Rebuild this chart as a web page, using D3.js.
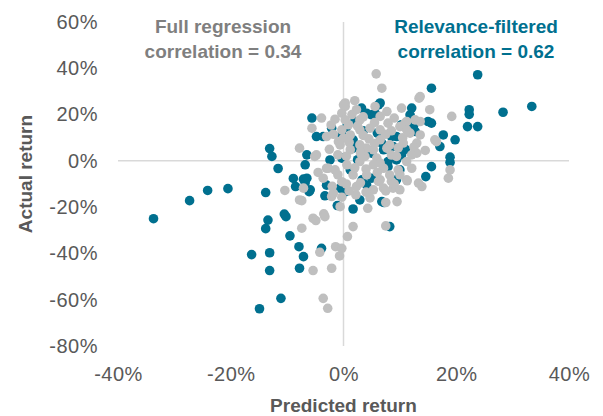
<!DOCTYPE html>
<html>
<head>
<meta charset="utf-8">
<script src="https://cdn.jsdelivr.net/npm/d3@7"></script>
<style>
  body { margin: 0; background: #fff; }
  text { font-family: "Liberation Sans", Arial, sans-serif; }
</style>
</head>
<body>
<div id="chart"></div>
<script>
// predicted vs actual return, in percent
const filteredPoints = [
  [-33.7, -25.0], [-27.3, -17.2], [-24.1, -12.8], [-20.5, -12.0], [-13.8, -13.7],
  [-13.1, 5.3], [-12.7, 1.9], [-11.6, -3.3], [-13.4, -25.6], [-13.8, -29.3],
  [-16.3, -40.5], [-13.1, -39.7], [-13.1, -47.4], [-14.9, -63.9], [-11.1, -59.4],
  [-10.5, -23.0], [-10.2, -24.1], [-9.5, -32.4], [-7.9, -37.1], [-7.8, -46.4],
  [-8.9, -7.6], [-8.5, -11.1], [-3.9, -37.8], [-7.1, -41.4], [-1.1, -19.3],
  [1.7, -20.8], [7.2, -18.0], [8.2, -28.4], [-6.1, -13.3], [-3.3, -15.1],
  [-3.6, 10.5], [-2.1, 14.1], [-5.6, 18.5], [-2.4, 0.4], [-6.8, -1.7],
  [-7.1, -7.9], [-6.8, -9.5], [-0.6, -11.8], [23.8, 37.2], [15.6, 31.4],
  [33.4, 23.5], [28.3, 21.0], [22.3, 22.1], [22.3, 20.1], [22.0, 14.8],
  [23.8, 14.8], [12.1, 22.8], [15.6, 16.3], [17.7, 11.2], [17.1, 6.2],
  [19.8, 9.1], [18.9, 1.6], [18.9, -0.7], [15.6, -2.5], [14.6, -6.8],
  [6.5, 25.0], [3.2, 22.8], [-4.8, 10.5], [-6.5, 2.6], [-6.5, -7.5],
  [-5.9, -12.5], [2.9, -16.9], [6.8, -17.6], [7.9, -2.5], [9.4, 0.4],
  [9.4, 10.5], [8.8, 6.2], [12.4, 14.8], [15.0, 17.0], [4.1, 20.6],
  [5.0, 19.9], [1.7, 9.1], [1.7, 5.5], [6.8, 7.7], [8.5, 10.5],
  [5.0, 3.3], [7.1, 4.8], [10.3, 2.6], [4.1, -10.4], [-0.3, 11.2],
  [-0.3, 1.2], [10.0, -3.9], [9.4, -8.2], [7.9, -0.3], [6.2, 24.2],
  [5.6, 20.6], [11.8, 19.9], [2.0, 17.0], [10.3, 15.6], [12.7, 12.7],
  [1.2, -3.9], [3.3, -8.2], [0.3, -13.4], [0.5, 14.5], [3.5, 13.0],
  [2.5, 0.5], [5.0, -7.5], [-3.0, -10.5], [11.0, 5.0], [6.0, 12.0]
]

const fullPoints = [
  [-10.4, -12.8], [-7.8, 5.5], [-7.8, -16.9], [-7.4, -29.1], [-5.4, -24.8],
  [-4.9, -25.8], [-3.5, -22.9], [-3.3, -24.1], [-0.6, -19.8], [1.7, -28.4],
  [4.3, -20.5], [7.5, -28.1], [7.5, -18.0], [9.5, -17.6], [0.7, -32.7],
  [-1.4, -37.1], [-0.3, -37.8], [-0.7, -41.1], [-4.2, -39.5], [-5.4, -47.4],
  [-2.1, -46.4], [-3.6, -59.4], [-2.8, -63.7], [-7.4, -17.2], [-2.1, -15.4],
  [-0.3, -15.7], [-5.6, 14.1], [-3.0, 10.5], [-0.3, 13.4], [-4.8, 2.6],
  [-3.0, -3.2], [-3.6, -7.5], [-7.1, -11.8], [-1.8, -14.0], [-0.3, -9.0],
  [-0.9, 8.3], [-3.9, 18.5], [0.3, 23.5], [-0.3, 20.6], [5.8, 37.6],
  [6.8, 31.4], [13.4, 27.1], [19.2, 19.2], [15.3, 22.1], [10.3, 22.8],
  [16.5, 8.3], [18.9, -3.9], [18.6, -7.5], [13.9, -11.1], [11.3, -8.6],
  [5.6, 23.5], [0.3, 25.0], [2.3, 22.1], [-5.1, 1.9], [-2.7, -3.2],
  [8.5, -8.9], [6.2, -8.9], [11.8, 12.0], [12.7, 17.7], [13.6, 11.2],
  [10.9, 16.3], [13.0, 7.7], [13.0, 3.3], [6.5, 9.1], [6.5, 19.2],
  [4.1, 5.5], [10.0, 14.8], [0.0, 24.2], [7.7, 21.3], [13.6, 27.8],
  [11.2, 17.0], [0.9, 15.6], [7.9, 16.3], [1.2, 11.2], [2.9, 13.4],
  [4.7, 14.1], [6.5, 13.4], [11.2, 13.4], [10.6, 7.7], [12.1, 2.6],
  [11.2, -0.3], [2.9, 6.9], [1.2, 4.8], [0.6, -1.7], [2.9, -0.3],
  [5.3, -1.7], [7.1, -3.2], [1.7, -6.1], [4.1, -6.1], [6.5, -8.2],
  [8.2, -6.1], [8.8, -11.8], [7.1, -11.8], [5.3, -12.5], [2.3, -11.1],
  [11.2, -8.2], [13.3, -9.6], [12.1, -3.2], [0.0, 9.8], [7.7, 5.5],
  [9.4, 1.9], [5.3, 4.8], [3.8, 1.9], [5.9, 1.2], [16.2, 9.1],
  [13.6, 17.0], [0.3, 17.7], [2.9, 17.7], [8.2, 6.9], [-0.6, 6.9],
  [-1.5, -3.9], [-1.0, 2.6], [2.2, -14.7], [4.7, -16.0], [7.5, -13.0],
  [9.7, -3.9], [9.7, 5.6], [10.0, -12.5], [-1.5, 18.0], [1.5, 20.0],
  [3.5, 19.0], [-2.5, 5.0], [-1.0, -6.0], [0.5, -10.0], [2.0, -3.0],
  [3.0, 3.5], [4.5, 9.5], [5.5, 16.5], [8.5, 13.0], [9.0, 18.5],
  [10.5, 10.0], [3.5, 11.0], [1.0, 8.0], [-1.8, 11.5], [2.5, 15.0],
  [6.5, -1.0], [8.5, 2.5], [4.0, -3.5], [6.0, -5.0], [3.0, -9.5],
  [1.0, -13.0], [-2.0, -11.0], [-4.5, -5.0], [12.5, 6.0], [14.5, 4.5],
  [10.0, -6.0], [5.5, 7.5], [7.5, 11.5], [0.5, 2.0], [-2.2, 15.5],
  [9.0, -10.0], [4.0, -13.5], [2.0, 26.0]
]

const xTicks = [-40, -20, 0, 20, 40]
const yTicks = [-80, -60, -40, -20, 0, 20, 40, 60]

const labels = {
  full: ['Full regression', 'correlation = 0.34'],
  filtered: ['Relevance-filtered', 'correlation = 0.62']
}

const width = 603, height = 416
const margin = { top: 22, right: 34, bottom: 70, left: 118 }

const tealColor = '#00708f'
const greyDot = '#bfbfbf'
const textGrey = '#595959'

const svg = d3.select('#chart')
  .append('svg')
    .attr('width', width)
    .attr('height', height)

const x = d3.scaleLinear()
  .domain([-40, 40])
  .range([margin.left, width - margin.right])

const y = d3.scaleLinear()
  .domain([-80, 60])
  .range([height - margin.bottom, margin.top])

// zero lines
svg.append('line')
  .attr('x1', x(-40)).attr('x2', x(40))
  .attr('y1', y(0)).attr('y2', y(0))
  .attr('stroke', '#d9d9d9').attr('stroke-width', 1.5)

svg.append('line')
  .attr('x1', x(0)).attr('x2', x(0))
  .attr('y1', y(60)).attr('y2', y(-80))
  .attr('stroke', '#d9d9d9').attr('stroke-width', 1.5)

// axes, labels only
const xAxis = svg.append('g')
  .attr('transform', `translate(0,${height - margin.bottom})`)
  .call(d3.axisBottom(x).tickValues(xTicks).tickSize(0).tickPadding(21).tickFormat(d => d + '%'))
xAxis.select('.domain').remove()

const yAxis = svg.append('g')
  .attr('transform', `translate(${margin.left},0)`)
  .call(d3.axisLeft(y).tickValues(yTicks).tickSize(0).tickPadding(20).tickFormat(d => d + '%'))
yAxis.select('.domain').remove()

svg.selectAll('.tick text')
  .attr('font-size', 20)
  .attr('font-family', '"Liberation Sans", Arial, sans-serif')
  .attr('letter-spacing', 0.5)
  .attr('fill', textGrey)

// points: filtered first, full regression on top
svg.append('g')
  .selectAll('circle')
  .data(filteredPoints).enter()
  .append('circle')
    .attr('cx', d => x(d[0]))
    .attr('cy', d => y(d[1]))
    .attr('r', 4.8)
    .attr('fill', tealColor)

svg.append('g')
  .selectAll('circle')
  .data(fullPoints).enter()
  .append('circle')
    .attr('cx', d => x(d[0]))
    .attr('cy', d => y(d[1]))
    .attr('r', 4.8)
    .attr('fill', greyDot)

// axis titles
svg.append('text')
  .attr('x', x(0))
  .attr('y', 412)
  .attr('text-anchor', 'middle')
  .attr('font-size', 19)
  .attr('font-weight', 'bold')
  .attr('fill', textGrey)
  .text('Predicted return')

svg.append('text')
  .attr('transform', `translate(32,174) rotate(-90)`)
  .attr('text-anchor', 'middle')
  .attr('font-size', 19)
  .attr('font-weight', 'bold')
  .attr('fill', textGrey)
  .text('Actual return')

// annotations
const notes = [
  { lines: labels.full, cx: 223, color: '#7f7f7f' },
  { lines: labels.filtered, cx: 476, color: tealColor }
]
notes.forEach(n => {
  svg.append('g')
    .selectAll('text')
    .data(n.lines).enter()
    .append('text')
      .attr('x', n.cx)
      .attr('y', (d, i) => 33 + i * 25)
      .attr('text-anchor', 'middle')
      .attr('font-size', 19)
      .attr('font-weight', 'bold')
      .attr('fill', n.color)
      .text(d => d)
})
</script>
</body>
</html>
